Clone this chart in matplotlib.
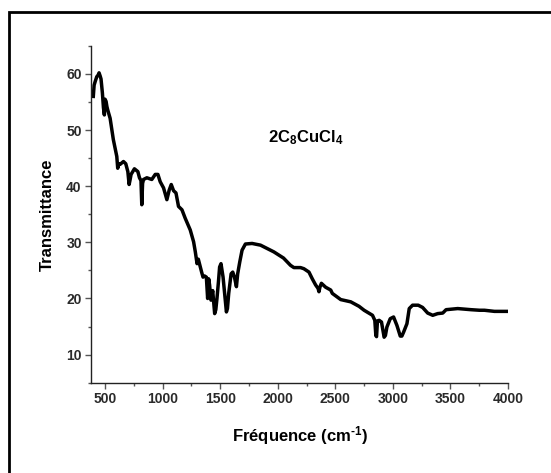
import matplotlib.pyplot as plt
from matplotlib.patches import Rectangle
from matplotlib.ticker import MultipleLocator

plt.rcParams['font.family'] = ['Liberation Sans', 'DejaVu Sans']
plt.rcParams['mathtext.default'] = 'bf'
plt.rcParams['mathtext.fontset'] = 'custom'
plt.rcParams['mathtext.bf'] = 'Liberation Sans:bold'
plt.rcParams['mathtext.rm'] = 'Liberation Sans:bold'

# IR spectrum (wavenumber in cm-1, transmittance)
wavenumber = [398, 405, 415, 428, 440, 448, 458, 465, 477, 486, 494, 500, 509, 516, 523,
              544, 572, 602, 610, 620, 631, 660, 680, 698, 709, 716, 726, 755, 785,
              799, 812, 819, 826, 834, 863, 906, 936, 959, 979, 1008, 1037, 1057,
              1075, 1095, 1116, 1138, 1168, 1196, 1240, 1269, 1284, 1299, 1310, 1327,
              1340, 1351, 1365, 1380, 1391, 1400, 1408, 1420, 1435, 1452, 1462, 1472,
              1485, 1495, 1507, 1525, 1539, 1554, 1563, 1574, 1595, 1609, 1624, 1641,
              1652, 1670, 1690, 1719, 1777, 1850, 1966, 2050, 2111, 2140, 2198, 2227,
              2271, 2300, 2329, 2350, 2358, 2366, 2379, 2416, 2460, 2474, 2547, 2634,
              2706, 2750, 2823, 2843, 2852, 2858, 2866, 2881, 2901, 2912, 2924, 2935,
              2948, 2977, 3006, 3035, 3064, 3078, 3093, 3122, 3142, 3171, 3220, 3258,
              3302, 3346, 3389, 3433, 3462, 3563, 3679, 3752, 3795, 3882, 3998]
transmittance = [56.0, 58.0, 58.7, 59.5, 59.8, 60.2, 59.6, 59.1, 56.6, 54.0, 52.7, 55.5,
                 55.1, 54.2, 53.6, 52.1, 48.3, 45.3, 43.2, 44.0, 43.9, 44.4, 44.0, 42.6,
                 40.3, 41.0, 42.1, 43.1, 42.6, 41.5, 41.0, 36.7, 40.5, 41.2, 41.5, 41.2,
                 42.1, 42.1, 40.8, 39.7, 37.6, 39.3, 40.3, 39.2, 38.8, 36.4, 35.8, 34.3,
                 32.2, 30.1, 28.3, 26.2, 27.0, 25.6, 24.6, 23.8, 24.0, 23.8, 20.0, 23.5,
                 22.4, 19.7, 21.4, 17.3, 18.0, 20.0, 23.0, 25.6, 26.2, 23.8, 20.9, 17.6,
                 18.2, 20.9, 24.4, 24.7, 23.8, 22.1, 24.4, 26.5, 28.6, 29.7, 29.8, 29.5,
                 28.3, 27.2, 25.9, 25.5, 25.5, 25.3, 24.7, 23.5, 22.4, 21.8, 21.2, 22.0,
                 22.7, 22.0, 21.5, 20.9, 19.8, 19.4, 18.6, 17.9, 17.0, 16.1, 13.4, 13.2,
                 16.0, 16.1, 15.8, 14.5, 13.1, 13.4, 14.9, 16.4, 16.7, 15.2, 13.3, 13.3,
                 14.0, 15.5, 18.2, 18.8, 18.8, 18.4, 17.4, 17.0, 17.3, 17.4, 18.0, 18.2,
                 18.0, 17.9, 17.9, 17.7, 17.7]

sample_label = '2C$_8$CuCl$_4$'


def make_plot(out_file):
    fig = plt.figure(figsize=(5.51, 4.73), dpi=100)
    ax = fig.add_axes([0.166, 0.191, 0.756, 0.712])

    ax.plot(wavenumber, transmittance, color='black', lw=2.5, solid_joinstyle='round')

    ax.set_xlim(382, 4000)
    ax.set_ylim(5, 65)
    ax.xaxis.set_minor_locator(MultipleLocator(250))
    ax.yaxis.set_minor_locator(MultipleLocator(5))
    ax.set_xticks(range(500, 4001, 500))
    ax.set_yticks(range(10, 61, 10))

    for side in ['top', 'right']:
        ax.spines[side].set_visible(False)
    for side in ['left', 'bottom']:
        ax.spines[side].set_linewidth(1.0)
        ax.spines[side].set_color('#222222')

    ax.tick_params(which='major', direction='out', length=4, width=1.0,
                   color='#555555', labelsize=10, pad=3)
    ax.tick_params(which='minor', direction='out', length=2.5, width=1.0,
                   color='#555555')
    for lab in ax.get_xticklabels() + ax.get_yticklabels():
        lab.set_fontweight('bold')
        lab.set_color('#2a2a2a')

    ax.set_xlabel('Fréquence (cm$^{\\text{-1}}$)', fontsize=12, fontweight='bold', labelpad=13)
    ax.set_ylabel('Transmittance', fontsize=12, fontweight='bold', labelpad=8)

    ax.text(2242, 47.8, sample_label, fontsize=12, fontweight='bold',
            ha='center', va='baseline')

    # outer frame, cut by the right and bottom image edges
    fig.patches.append(Rectangle((8.5 / 551, -0.05), 1.1, 1 - 11.5 / 473 + 0.05,
                                 transform=fig.transFigure, fill=False,
                                 edgecolor='black', lw=2.0))

    fig.savefig(out_file, dpi=100)
    plt.close(fig)


if __name__ == '__main__':
    make_plot('out.png')
